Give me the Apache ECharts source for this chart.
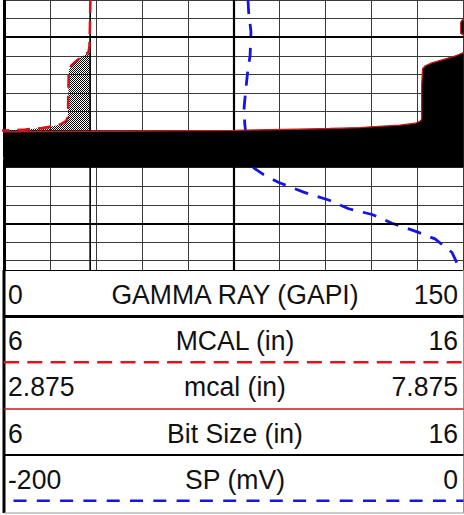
<!DOCTYPE html>
<html>
<head>
<meta charset="utf-8">
<script src="https://cdn.jsdelivr.net/npm/echarts@6/dist/echarts.min.js"></script>
<style>
html,body{margin:0;padding:0;background:#fff;}
#c{width:464px;height:515px;}
</style>
</head>
<body>
<div id="c"></div>
<script>
// ---- data ----
const depthMin = 998, depthMax = 1012.5;
const majorDepths = [1000, 1010];

// SP (mV), scale -200..0
const spDepth = [998.0, 998.66, 999.71, 1001.01, 1001.69, 1002.74, 1003.78, 1004.67, 1006.0, 1007.02, 1007.38, 1007.80, 1008.32, 1008.74, 1009.21, 1009.52, 1009.99, 1010.41, 1010.83, 1011.56, 1012.14, 1012.5];
const spValue = [-93.8, -93.5, -92.5, -92.9, -93.8, -94.7, -95.5, -95.2, -94.0, -91.3, -87.0, -80.4, -69.6, -58.7, -50.0, -39.8, -31.1, -21.1, -12.4, -5.0, -2.8, -2.4];

// MCAL (in), scale 6..16
const mcalDepthA = [998.0, 999.45, 1000.49, 1000.80, 1001.01, 1001.17, 1001.32, 1001.53, 1001.80, 1003.10, 1004.30, 1004.51, 1004.67, 1004.77, 1004.88, 1004.96, 1005.01, 1005.05, 1006.5, 1006.6, 1012.5];
const mcalValueA = [7.88, 7.87, 7.86, 7.84, 7.72, 7.63, 7.55, 7.46, 7.41, 7.40, 7.39, 7.35, 7.24, 7.09, 6.83, 6.46, 6.0, 5.2, 5.2, 17, 17];

// mcal (in), scale 2.875..7.875
const mcalDepthB = [998.0, 999.0, 999.08, 999.2, 999.8, 999.92, 1000.75, 1000.86, 1001.01, 1001.17, 1001.38, 1001.53, 1001.69, 1002.58, 1003.62, 1004.41, 1004.51, 1004.62, 1004.72, 1004.80, 1004.85, 1004.90, 1004.94, 1005.00, 1005.04, 1005.08, 1005.10, 1006.99, 1007.0, 1012.5];
const mcalValueB = [8.3, 8.0, 7.86, 7.845, 7.845, 7.9, 7.95, 7.86, 7.78, 7.67, 7.53, 7.46, 7.43, 7.42, 7.42, 7.42, 7.40, 7.35, 7.18, 6.91, 6.75, 6.42, 6.07, 5.39, 4.35, 2.875, 2.5, 2.5, 8.3, 8.3];
const mcalBreakAfter = 1006.99;

// Bit size (in), scale 6..16
const bitDepth = [998.0, 1012.5];
const bitValue = [7.875, 7.875];

// header
const trackNames = ['GAMMA RAY (GAPI)', 'MCAL (in)', 'mcal (in)', 'Bit Size (in)', 'SP (mV)'];
const trackMins = ['0', '6', '2.875', '6', '-200'];
const trackMaxs = ['150', '16', '7.875', '16', '0'];

// ---- styles / layout ----
const L = 4, R = 463.5, PLOT_BOTTOM = 270, HEAD_BOTTOM = 513;
const textY = [294, 340.5, 386, 433.5, 479.5];
const lineY = [316.5, 362.3, 409, 455, 500.7];
const lineStyles = [
  {stroke: '#000', lineWidth: 3},
  {stroke: '#e3141c', lineWidth: 2.5, lineDash: [15, 8.3], x0: 4},
  {stroke: '#c41a1a', lineWidth: 1.5},
  {stroke: '#000', lineWidth: 2},
  {stroke: '#1414e6', lineWidth: 2.5, lineDash: [13, 10.3], x0: 13.5}
];
const FONT = '28px "Liberation Sans", Arial, sans-serif';
const SX = 0.95;

// checker pattern
const pc = document.createElement('canvas');
pc.width = 2; pc.height = 2;
const g = pc.getContext('2d');
g.fillStyle = '#000';
g.fillRect(0, 0, 1, 1); g.fillRect(1, 1, 1, 1);
const checker = {image: pc, repeat: 'repeat'};

const clamp = (v, a, b) => Math.max(a, Math.min(b, v));

const spData = spDepth.map((d, i) => [spValue[i], d]);
const mcalAData = mcalDepthA.map((d, i) => [mcalValueA[i], d]);
const bitData = bitDepth.map((d, i) => [bitValue[i], d]);
const mcalBData = [];
mcalDepthB.forEach((d, i) => {
  mcalBData.push([mcalValueB[i], d]);
  if (d === mcalBreakAfter) mcalBData.push(['-', '-']);
});

const graphics = [];
graphics.push({type: 'line', shape: {x1: L, y1: PLOT_BOTTOM, x2: L, y2: HEAD_BOTTOM}, style: {stroke: '#000', lineWidth: 3}, z: 100});
graphics.push({type: 'line', shape: {x1: R, y1: PLOT_BOTTOM, x2: R, y2: HEAD_BOTTOM}, style: {stroke: '#999', lineWidth: 1}, z: 100});
graphics.push({type: 'line', shape: {x1: L, y1: HEAD_BOTTOM, x2: R, y2: HEAD_BOTTOM}, style: {stroke: '#999', lineWidth: 1}, z: 100});
function addText(txt, x, y, align) {
  graphics.push({type: 'text', x: x, y: y, scaleX: SX, z: 100,
    style: {text: txt, x: 0, y: 0, font: FONT, fill: '#111', textAlign: align, textVerticalAlign: 'middle'}});
}
trackNames.forEach((name, i) => {
  const ls = lineStyles[i];
  graphics.push({type: 'line', shape: {x1: ls.x0 !== undefined ? ls.x0 : L, y1: lineY[i], x2: R, y2: lineY[i]},
    style: {stroke: ls.stroke, lineWidth: ls.lineWidth, lineDash: ls.lineDash || null}, z: 100});
  addText(trackMins[i], 8, textY[i], 'left');
  addText(name, 235, textY[i], 'center');
  addText(trackMaxs[i], 458, textY[i], 'right');
});

const hiddenX = (min, max) => ({type: 'value', min, max, show: false, splitLine: {show: false}});

const option = {
  animation: false,
  backgroundColor: '#fff',
  grid: {left: L, right: 464 - R, top: -7.66, bottom: 515 - PLOT_BOTTOM, containLabel: false},
  xAxis: [
    {type: 'value', min: 0, max: 150, interval: 15, position: 'bottom',
      axisLine: {show: true, onZero: false, lineStyle: {color: '#000', width: 1}},
      axisTick: {show: false}, axisLabel: {show: false},
      splitLine: {show: true, lineStyle: {color: '#3a3a3a', width: 1}}},
    hiddenX(6, 16),
    hiddenX(2.875, 7.875),
    hiddenX(6, 16),
    hiddenX(-200, 0)
  ],
  yAxis: [{type: 'value', inverse: true, min: depthMin, max: depthMax, interval: 1,
    axisLine: {show: true, onZero: false, lineStyle: {color: '#000', width: 3}},
    axisTick: {show: false}, axisLabel: {show: false},
    splitLine: {show: true, lineStyle: {color: '#3a3a3a', width: 1}}}],
  series: [
    {type: 'line', name: 'SP', xAxisIndex: 4, data: spData, symbol: 'none', z: 2,
      lineStyle: {color: '#1414e6', width: 2.8, type: [14, 10]},
      markLine: {silent: true, symbol: ['none', 'none'], label: {show: false},
        lineStyle: {color: '#000', width: 2.2, type: 'solid'},
        data: majorDepths.map(d => ({yAxis: d})).concat([{xAxis: -100}])}},
    {type: 'line', name: 'Bit Size', xAxisIndex: 3, data: bitData, symbol: 'none', z: 3,
      lineStyle: {color: '#000', width: 1.6}},
    {type: 'custom', name: 'MCAL fill', xAxisIndex: 1, data: [[7, 1000]], z: 3,
      renderItem: (params, api) => {
        const bit = bitValue[0];
        const pts = [];
        mcalDepthA.forEach((d, i) => pts.push(api.coord([clamp(mcalValueA[i], 6, bit), d])));
        for (let i = mcalDepthA.length - 1; i >= 0; i--) pts.push(api.coord([bit, mcalDepthA[i]]));
        return {type: 'polygon', shape: {points: pts}, style: {fill: checker}};
      }},
    {type: 'line', name: 'MCAL', xAxisIndex: 1, data: mcalAData, symbol: 'none', z: 4,
      lineStyle: {color: '#d4141c', width: 2.6, type: [13, 8]}},
    {type: 'custom', name: 'mcal fill', xAxisIndex: 2, data: [[5, 1000]], z: 5,
      renderItem: (params, api) => {
        const pts = [];
        mcalDepthB.forEach((d, i) => pts.push(api.coord([clamp(mcalValueB[i], 2.875, 7.875), d])));
        pts.push(api.coord([7.875, mcalDepthB[mcalDepthB.length - 1]]));
        pts.push(api.coord([7.875, mcalDepthB[0]]));
        return {type: 'polygon', shape: {points: pts}, style: {fill: '#000'}};
      }},
    {type: 'line', name: 'mcal', xAxisIndex: 2, data: mcalBData, symbol: 'none', z: 6, connectNulls: false,
      lineStyle: {color: '#c41a1a', width: 1.3}}
  ],
  graphic: graphics
};

const chart = echarts.init(document.getElementById('c'), null, {renderer: 'svg'});
chart.setOption(option);
</script>
</body>
</html>
